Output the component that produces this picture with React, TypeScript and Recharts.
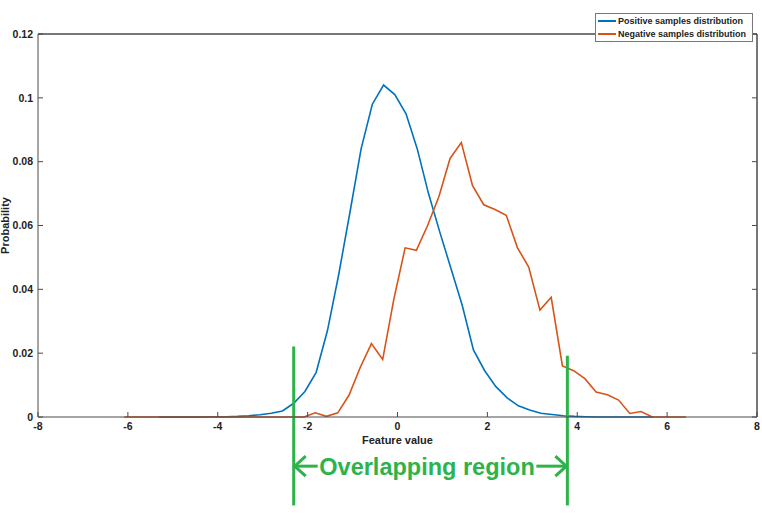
import { LineChart, Line, XAxis, YAxis, Legend, ReferenceLine } from 'recharts';

const xTicks = [-8, -6, -4, -2, 0, 2, 4, 6, 8];
const yTicks = [0, 0.02, 0.04, 0.06, 0.08, 0.1, 0.12];

const positiveX = [
  -5.31, -5.06, -4.81, -4.56, -4.31, -4.06, -3.81, -3.56, -3.31, -3.06, -2.81, -2.56, -2.31, -2.06, -1.81,
  -1.56, -1.31, -1.06, -0.81, -0.56, -0.31, -0.06, 0.19, 0.44, 0.69, 0.94, 1.19, 1.44, 1.69, 1.94, 2.19,
  2.44, 2.69, 2.94, 3.19, 3.44, 3.69, 3.94, 4.19, 4.44, 4.69, 4.94, 5.19, 5.44, 5.69,
];
const positiveY = [
  0, 0, 0, 0, 0, 0.0001, 0.0001, 0.0002, 0.0004, 0.0007, 0.0012, 0.0019, 0.0043, 0.008, 0.014,
  0.027, 0.0445, 0.064, 0.084, 0.098, 0.104, 0.101, 0.095, 0.084, 0.07, 0.058, 0.0465, 0.035, 0.021, 0.0145, 0.0095,
  0.006, 0.0035, 0.0022, 0.0012, 0.0008, 0.0004, 0.0002, 0.0001, 0, 0, 0, 0, 0, 0,
];

const negativeX = [
  -6.08, -5.83, -5.58, -5.33, -5.08, -4.83, -4.58, -4.33, -4.08, -3.83, -3.58, -3.33, -3.08, -2.83, -2.58,
  -2.33, -2.08, -1.83, -1.58, -1.33, -1.08, -0.83, -0.58, -0.33, -0.08, 0.17, 0.42, 0.67, 0.92, 1.17, 1.42,
  1.67, 1.92, 2.17, 2.42, 2.67, 2.92, 3.17, 3.42, 3.67, 3.92, 4.17, 4.42, 4.67, 4.92, 5.17, 5.42, 5.67,
  5.92, 6.17, 6.42,
];
const negativeY = [
  0, 0, 0, 0, 0, 0, 0, 0, 0, 0, 0, 0, 0, 0, 0,
  0, 0, 0.0013, 0.0002, 0.0013, 0.0068, 0.0155, 0.023, 0.018, 0.037, 0.053, 0.0522, 0.06, 0.069, 0.081, 0.086,
  0.0725, 0.0665, 0.065, 0.0632, 0.053, 0.047, 0.0335, 0.0375, 0.016, 0.0145, 0.012, 0.0078, 0.007, 0.0053, 0.0011, 0.0017, 0,
  0, 0, 0,
];

const positiveData = positiveX.map((x, i) => ({ x, y: positiveY[i] }));
const negativeData = negativeX.map((x, i) => ({ x, y: negativeY[i] }));

const BLUE = '#0072BD';
const ORANGE = '#D95319';
const GREEN = '#2db34a';
const AXIS = '#4a4a4a';
const FONT = '"Liberation Sans", Arial, sans-serif';

// where the overlap annotation sits
const overlapLeft = -2.31;
const overlapRight = 3.78;
const arrowY = -0.0154;
const lineBottom = -0.0277;

const tickStyle = { fill: '#222', fontSize: 10.5, fontWeight: 700, fontFamily: FONT };
const noText = () => <g />;

function LegendBox() {
  const rows = [
    { name: 'Positive samples distribution', color: BLUE },
    { name: 'Negative samples distribution', color: ORANGE },
  ];
  return (
    <div
      style={{
        border: '1px solid #777',
        background: '#fff',
        padding: '1px 6px 1px 2px',
        fontFamily: FONT,
        fontSize: 9,
        fontWeight: 700,
        color: '#222',
        lineHeight: '12.5px',
      }}
    >
      {rows.map((r) => (
        <div key={r.name} style={{ display: 'flex', alignItems: 'center' }}>
          <span style={{ display: 'inline-block', width: 18, height: 2, background: r.color, marginRight: 2 }} />
          {r.name}
        </div>
      ))}
    </div>
  );
}

function YLabel(props: any) {
  const vb = props.viewBox || { x: 0, y: 0, height: 0 };
  const cx = 9;
  const cy = vb.y + vb.height / 2;
  return (
    <text
      x={cx}
      y={cy}
      transform={`rotate(-90 ${cx} ${cy})`}
      textAnchor="middle"
      fill="#222"
      fontSize={11}
      fontWeight={700}
      fontFamily={FONT}
    >
      Probability
    </text>
  );
}

function XLabel(props: any) {
  const vb = props.viewBox || { x: 0, y: 0, width: 0 };
  return (
    <text
      x={vb.x + vb.width / 2}
      y={vb.y + 27}
      textAnchor="middle"
      fill="#222"
      fontSize={11}
      fontWeight={700}
      fontFamily={FONT}
    >
      Feature value
    </text>
  );
}

function OverlapArrows(props: any) {
  const { x1, y1, x2 } = props;
  const left = Math.min(x1, x2);
  const right = Math.max(x1, x2);
  const shaftL = left + 24;
  const shaftR = right - 31;
  return (
    <g>
      <line x1={left} y1={y1} x2={shaftL} y2={y1} stroke={GREEN} strokeWidth={3} />
      <path d={`M${left + 12},${y1 - 10} L${left + 1},${y1} L${left + 12},${y1 + 10}`} fill="none" stroke={GREEN} strokeWidth={3} />
      <line x1={shaftR} y1={y1} x2={right} y2={y1} stroke={GREEN} strokeWidth={3} />
      <path d={`M${right - 12},${y1 - 10} L${right - 1},${y1} L${right - 12},${y1 + 10}`} fill="none" stroke={GREEN} strokeWidth={3} />
      <text
        x={(shaftL + shaftR) / 2}
        y={y1 + 9}
        textAnchor="middle"
        fill={GREEN}
        fontSize={23.5}
        fontWeight={700}
        fontFamily={FONT}
      >
        Overlapping region
      </text>
    </g>
  );
}

export default function App() {
  return (
    <div style={{ position: 'absolute', left: 0, top: 0, background: '#fff' }}>
      <LineChart width={762} height={514} margin={{ top: 4, right: 4, left: 0, bottom: 0 }} style={{ fontFamily: FONT }}>
        <XAxis
          xAxisId={0}
          type="number"
          dataKey="x"
          domain={[-8, 8]}
          ticks={xTicks}
          allowDataOverflow
          height={97}
          stroke={AXIS}
          tickSize={-5}
          tickMargin={11}
          tick={tickStyle}
          label={<XLabel />}
        />
        <XAxis
          xAxisId="top"
          orientation="top"
          type="number"
          domain={[-8, 8]}
          ticks={xTicks}
          allowDataOverflow
          height={1}
          stroke={AXIS}
          tickSize={-5}
          tick={noText}
        />
        <YAxis
          yAxisId={0}
          type="number"
          domain={[0, 0.12]}
          ticks={yTicks}
          width={38}
          stroke={AXIS}
          tickSize={-5}
          tickMargin={10}
          tick={tickStyle}
          tickFormatter={(v: number) => String(+v.toFixed(2))}
          label={<YLabel />}
        />
        <YAxis
          yAxisId="right"
          orientation="right"
          type="number"
          domain={[0, 0.12]}
          ticks={yTicks}
          allowDataOverflow
          width={1}
          stroke={AXIS}
          tickSize={-5}
          tick={noText}
        />
        <Legend
          verticalAlign="top"
          align="right"
          content={<LegendBox />}
          wrapperStyle={{ position: 'absolute', left: 595, top: 13, width: 'auto' }}
        />
        <Line
          data={positiveData}
          dataKey="y"
          name="Positive samples distribution"
          type="linear"
          stroke={BLUE}
          strokeWidth={1.6}
          dot={false}
          isAnimationActive={false}
        />
        <Line
          data={negativeData}
          dataKey="y"
          name="Negative samples distribution"
          type="linear"
          stroke={ORANGE}
          strokeWidth={1.6}
          dot={false}
          isAnimationActive={false}
        />
        {/* box edges */}
        <ReferenceLine y={0.12} stroke={AXIS} ifOverflow="visible" />
        <ReferenceLine x={8} stroke={AXIS} ifOverflow="visible" />
        <ReferenceLine
          segment={[{ x: overlapLeft, y: 0.0221 }, { x: overlapLeft, y: lineBottom }]}
          stroke={GREEN}
          strokeWidth={3}
          ifOverflow="visible"
        />
        <ReferenceLine
          segment={[{ x: overlapRight, y: 0.0192 }, { x: overlapRight, y: lineBottom }]}
          stroke={GREEN}
          strokeWidth={3}
          ifOverflow="visible"
        />
        <ReferenceLine
          segment={[{ x: overlapLeft, y: arrowY }, { x: overlapRight, y: arrowY }]}
          ifOverflow="visible"
          shape={(p: any) => <OverlapArrows {...p} />}
        />
      </LineChart>
    </div>
  );
}
